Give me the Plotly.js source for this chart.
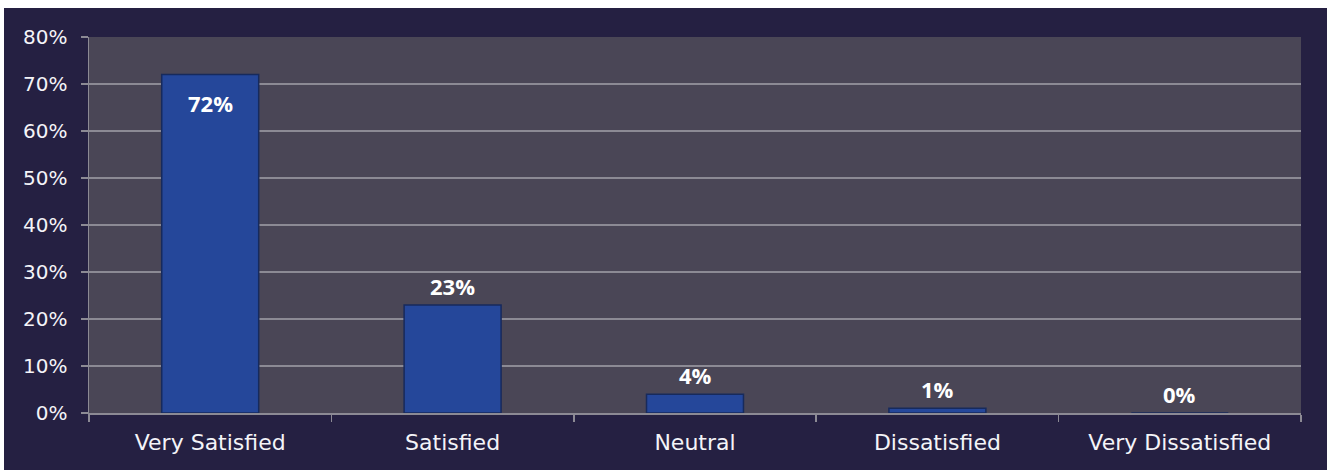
<!DOCTYPE html>
<html>
<head>
<meta charset="utf-8">
<script src="https://cdn.plot.ly/plotly-3.0.1.min.js"></script>
<style>
  html, body { margin: 0; padding: 0; background: #ffffff; width: 1327px; height: 470px; overflow: hidden; }
  #chart { position: absolute; left: 4px; top: 8px; width: 1323px; height: 462px; }
</style>
</head>
<body>
<div id="chart"></div>
<script>
const categories = ["Very Satisfied", "Satisfied", "Neutral", "Dissatisfied", "Very Dissatisfied"];
const values = [0.72, 0.23, 0.04, 0.01, 0.00];
const labels = ["72%", "23%", "4%", "1%", "0%"];
const labelInside = [true, false, false, false, false];

const yTickFont = { family: "'DejaVu Sans', sans-serif", size: 20, color: "#f4f4f8" };
const xTickFont = { family: "'DejaVu Sans', sans-serif", size: 22, color: "#f4f4f8" };
const labelFont = { family: "'Open Sans', sans-serif", size: 22, color: "#ffffff", weight: "bold" };

const trace = {
  type: "bar",
  x: categories,
  y: values,
  hoverinfo: "skip",
  marker: { color: "#25479a", line: { color: "#172a5c", width: 1.5 } },
  width: 0.4
};

const annotations = categories.map((c, i) => ({
  x: c,
  y: values[i],
  xref: "x",
  yref: "y",
  text: labels[i],
  showarrow: false,
  font: labelFont,
  yanchor: labelInside[i] ? "top" : "bottom",
  yshift: labelInside[i] ? -11 : 2
}));

const layout = {
  width: 1323,
  height: 462,
  paper_bgcolor: "#252042",
  plot_bgcolor: "#4a4656",
  margin: { l: 85, r: 26, t: 29, b: 57, pad: 0 },
  showlegend: false,
  font: { family: "'DejaVu Sans', sans-serif", color: "#f4f4f8", size: 20 },
  annotations: annotations,
  xaxis: {
    type: "category",
    tickson: "boundaries",
    ticks: "outside",
    ticklen: 7,
    tickwidth: 1.5,
    tickcolor: "#8c8a94",
    ticklabelstandoff: 9,
    showline: true,
    linecolor: "#8c8a94",
    linewidth: 2,
    showgrid: false,
    tickfont: xTickFont,
    automargin: false
  },
  yaxis: {
    range: [0, 0.8],
    dtick: 0.1,
    tickformat: ".0%",
    ticks: "outside",
    ticklen: 7,
    tickwidth: 1.5,
    tickcolor: "#8c8a94",
    ticklabelstandoff: 9,
    showline: true,
    linecolor: "#8c8a94",
    linewidth: 1.5,
    showgrid: true,
    gridcolor: "#8c8a94",
    gridwidth: 1.5,
    zeroline: false,
    tickfont: yTickFont,
    automargin: false
  }
};

Plotly.newPlot("chart", [trace], layout, { displayModeBar: false, staticPlot: true });
</script>
</body>
</html>
